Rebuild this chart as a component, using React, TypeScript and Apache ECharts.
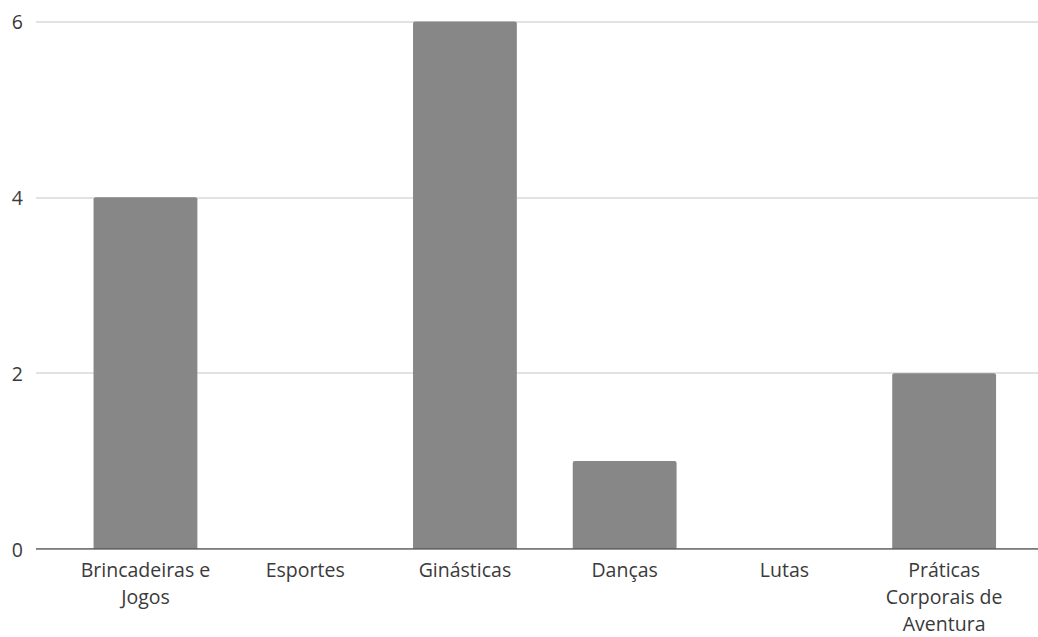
import React, { useEffect, useRef } from "react";
import * as echarts from "echarts";

// Bar values per category of body practice
const categories = [
  "Brincadeiras e Jogos",
  "Esportes",
  "Ginásticas",
  "Danças",
  "Lutas",
  "Práticas Corporais de Aventura",
];
const tickLabels = [
  "Brincadeiras e\nJogos",
  "Esportes",
  "Ginásticas",
  "Danças",
  "Lutas",
  "Práticas\nCorporais de\nAventura",
];
const values = [4, 0, 6, 1, 0, 2];
const yTicks = { min: 0, max: 6, interval: 2 };

const FONT = "'Open Sans', Lato, sans-serif";

export default function App() {
  const ref = useRef<HTMLDivElement>(null);

  useEffect(() => {
    if (!ref.current) return;
    const chart = echarts.init(ref.current, null, { renderer: "svg" });
    chart.setOption({
      animation: false,
      backgroundColor: "#ffffff",
      grid: [
        // full-width grid carrying the value axis and gridlines
        { left: 36, right: 0, top: 21.5, bottom: 88, outerBoundsMode: "none" },
        // inner grid carrying the bars and category labels
        { left: 65.6, right: 14, top: 21.5, bottom: 88, outerBoundsMode: "none" },
      ],
      xAxis: [
        {
          gridIndex: 0,
          type: "value",
          show: false,
          min: 0,
          max: 1,
        },
        {
          gridIndex: 1,
          type: "category",
          data: categories,
          axisLine: { show: false },
          axisTick: { show: false },
          axisLabel: {
            interval: 0,
            margin: 7.5,
            fontFamily: FONT,
            fontSize: 19.5,
            color: "#3a3a3a",
            lineHeight: 26.8,
            formatter: (_v: string, i: number) => tickLabels[i],
          },
        },
      ],
      yAxis: [
        {
          gridIndex: 0,
          type: "value",
          ...yTicks,
          axisLine: { show: false },
          axisTick: { show: false },
          axisLabel: {
            margin: 13,
            fontFamily: FONT,
            fontSize: 19.5,
            color: "#3a3a3a",
          },
          splitLine: { lineStyle: { color: "#d9d9d9", width: 1.5 } },
        },
        {
          gridIndex: 1,
          type: "value",
          ...yTicks,
          show: false,
          splitLine: { show: false },
        },
      ],
      series: [
        {
          type: "bar",
          xAxisIndex: 1,
          yAxisIndex: 1,
          data: values,
          barCategoryGap: "35%",
          itemStyle: { color: "#878787", borderRadius: [2, 2, 0, 0] },
          z: 2,
        },
        {
          // baseline drawn across the full width
          type: "line",
          xAxisIndex: 0,
          yAxisIndex: 0,
          data: [
            [0, 0],
            [1, 0],
          ],
          symbol: "none",
          lineStyle: { color: "#5a5a5a", width: 1.5 },
          z: 3,
          silent: true,
        },
      ],
    });
    return () => chart.dispose();
  }, []);

  return (
    <div
      ref={ref}
      style={{ position: "absolute", left: 0, top: 0, width: 1038, height: 637 }}
    />
  );
}
